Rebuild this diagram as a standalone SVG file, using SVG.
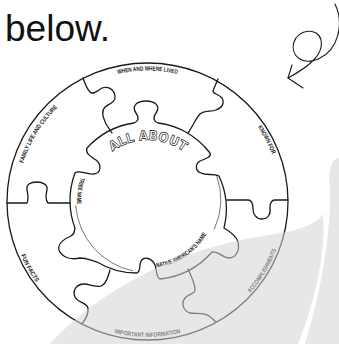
<svg xmlns="http://www.w3.org/2000/svg" width="339" height="344" viewBox="0 0 339 344">
<style>
.ln{fill:none;stroke:#1a1a1a;stroke-width:1.3;stroke-linejoin:round;stroke-linecap:round}
.thin{fill:none;stroke:#1a1a1a;stroke-width:0.6}
.lbl{font-family:"Liberation Sans",Arial,sans-serif;font-weight:bold;font-size:6.2px;fill:#1a1a1a}
.big{font-family:"DejaVu Sans",sans-serif;font-weight:bold;font-size:13px;fill:#fff;stroke:#222;stroke-width:0.7}
</style>
<defs>
<path id="pWhen" d="M 34.1,136 A 131 131 0 0 1 260.9,136"/>
<path id="pKnown" d="M 187.7,74.7 A 133 133 0 0 1 274.3,241.7"/>
<path id="pFamily" d="M 21,231.4 A 130 130 0 0 1 117.6,75"/>
<path id="pFun" d="M 15,164.8 A 137.5 137.5 0 0 0 110.8,334"/>
<path id="pImp" d="M 51.7,297.3 A 135.5 135.5 0 0 0 243.3,297.3"/>
<path id="pAcc" d="M 180.5,335 A 137.5 137.5 0 0 0 281,168.5"/>
<path id="pAll" d="M 96,170 A 60 60 0 0 1 200,170"/>
<path id="pTribe" d="M 104.8,143.7 A 71 71 0 0 0 91.7,243.2"/>
<path id="pNative" d="M 134.4,266.4 A 67.8 67.8 0 0 0 214.4,213.6"/>
</defs>
<rect width="339" height="344" fill="#fff"/>
<text x="5" y="41" font-family="Liberation Sans, Arial, sans-serif" font-size="37" textLength="105" lengthAdjust="spacingAndGlyphs" fill="#111">below.</text>
<g id="arrow" class="ln" style="stroke-width:1.1">
<path d="M 335,4 C 345,25 337,50 320,58 C 302,67 290,55 294,42 C 298,29 318,27 321,40 C 324,54 310,66 288,78"/>
<path d="M 292,65 L 288,78 L 303,88"/>
</g>
<g id="puzzle">
<g id="ring"><ellipse cx="147.5" cy="201.5" rx="140.5" ry="138.5" class="ln"/></g>
<g id="center-piece">
<path class="ln" d="M 70,203 A 78 78 0 0 1 75,173 C 79,169 86,175 94,174 C 101,173 102,165 96,160 C 90,156 85,153 87,148 A 79 79 0 0 1 134,123 C 139,121 139,117 136,113 C 131,106 137,101 146,101 C 155,101 161,106 156,113 C 153,117 153,121 158,123 A 78 78 0 0 1 210,153 C 212,157 205,159 200,161 C 195,164 195,171 201,173 C 207,176 213,173 219,176 A 79 79 0 0 1 224,228 C 229,231 236,235 238,242 C 240,250 236,258 229,258 C 223,258 218,251 212,252 A 80 80 0 0 1 160,279 C 156,278 157,270 155,265 C 152,258 144,256 141,261 C 139,265 141,271 137,273 A 76 76 0 0 1 97,262 C 90,260 86,258 80,258 C 72,260 62,258 59,250 C 57,243 66,238 71,236 C 75,234 74,232 75,228 A 78 78 0 0 1 70,203 Z"/>
<path class="thin" d="M 216.5,175.2 A 72.5 72.5 0 0 1 214.2,229.5"/>
<path class="thin" d="M 132.9,270.9 A 72.5 72.5 0 0 1 75.7,205.1"/>
</g>
<g id="edges">
<path class="ln" d="M 83,78 C 85,84 87,89 90,92 C 93,95 97,91 102,88 C 108,86 114,89 115,96 C 116,102 109,104 105,107 C 101,111 103,118 106,124 L 112,133"/>
<path class="ln" d="M 218,79 C 216,84 214,88 213,91 C 213,94 219,94 222,98 C 225,103 222,108 216,110 C 211,112 204,110 200,114 C 196,118 193,126 188,133"/>
<path class="ln" d="M 227,200 L 248,200 C 252,200 253,204 253,209 C 253,214 256,219 262,219 C 268,219 271,214 270,208 C 270,203 271,200 275,200 L 288,200"/>
<path class="ln" d="M 188,269 C 191,276 195,283 195,290 C 195,294 188,294 185,298 C 181,303 183,311 190,313 C 196,314 204,312 209,316 C 213,319 215,321 216,322"/>
<path class="ln" d="M 110,270 C 108,277 106,284 101,286 C 96,288 90,284 84,284 C 77,284 72,290 75,297 C 78,303 86,302 88,308 C 89,314 85,320 82,324"/>
<path class="ln" d="M 7,203 L 27,203 C 29,199 28,195 27,190 C 26,184 31,182 37,182 C 43,182 48,185 47,190 C 46,195 45,199 48,203 L 70,203"/>
</g>
<g id="labels">
<text class="lbl"><textPath href="#pWhen" startOffset="50%" text-anchor="middle" textLength="60" lengthAdjust="spacingAndGlyphs">WHEN AND WHERE LIVED</textPath></text>
<text class="lbl"><textPath href="#pKnown" startOffset="50%" text-anchor="middle" textLength="31" lengthAdjust="spacingAndGlyphs">KNOWN FOR</textPath></text>
<text class="lbl"><textPath href="#pFamily" startOffset="50%" text-anchor="middle" textLength="66" lengthAdjust="spacingAndGlyphs">FAMILY LIFE AND CULTURE</textPath></text>
<text class="lbl"><textPath href="#pFun" startOffset="50%" text-anchor="middle" textLength="31" lengthAdjust="spacingAndGlyphs">FUN FACTS</textPath></text>
<text class="lbl"><textPath href="#pImp" startOffset="50%" text-anchor="middle" textLength="67" lengthAdjust="spacingAndGlyphs">IMPORTANT INFORMATION</textPath></text>
<text class="lbl"><textPath href="#pAcc" startOffset="50%" text-anchor="middle" textLength="51" lengthAdjust="spacingAndGlyphs">ACCOMPLISHMENTS</textPath></text>
<text class="lbl"><textPath href="#pTribe" startOffset="50%" text-anchor="middle" textLength="27" lengthAdjust="spacingAndGlyphs">TRIBE NAME</textPath></text>
<text class="lbl"><textPath href="#pNative" startOffset="50%" text-anchor="middle" textLength="62" lengthAdjust="spacingAndGlyphs">NATIVE AMERICAN'S NAME</textPath></text>
<text class="big"><textPath href="#pAll" startOffset="50%" text-anchor="middle" textLength="76" lengthAdjust="spacingAndGlyphs">ALL ABOUT</textPath></text>
</g>
</g>
<g id="watermark" fill="#d4d4d4" fill-opacity="0.55">
<path d="M 50,344 C 90,300 160,255 250,238 C 285,232 312,230 323,214 C 326,250 316,300 298,344 Z"/>
<path d="M 339,158 C 331,159 328,170 330,190 C 331,230 322,290 305,344 L 339,344 Z"/>
</g>
</svg>
